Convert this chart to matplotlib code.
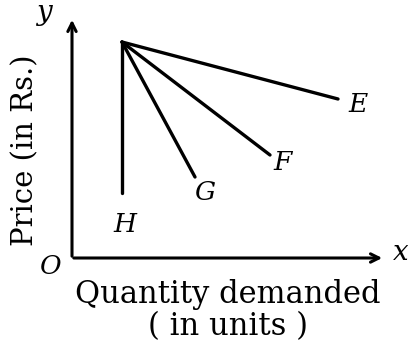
import matplotlib
matplotlib.use("Agg")
import matplotlib.pyplot as plt

# diagram coordinates (pixel space of the original picture, y downwards)
origin = (72, 258)
apex = (122, 42)
curve_names = ["E", "F", "G", "H"]
curve_ends = [(338, 99), (270, 155), (195, 177), (122, 193)]
label_pos = [(358, 104), (283, 163), (205, 193), (125, 224)]

fig = plt.figure(figsize=(4.08, 3.5), dpi=100)
ax = fig.add_axes([0, 0, 1, 1])
ax.set_xlim(0, 408)
ax.set_ylim(350, 0)
ax.axis("off")

serif = ["DejaVu Serif", "Liberation Serif"]

# axes with arrows
ax.annotate("", xy=(origin[0], 17), xytext=(origin[0], origin[1] + 1),
            arrowprops=dict(arrowstyle="->,head_length=0.6,head_width=0.3", lw=2.2, color="black"))
ax.annotate("", xy=(385, origin[1]), xytext=(origin[0] - 1, origin[1]),
            arrowprops=dict(arrowstyle="->,head_length=0.6,head_width=0.3", lw=2.2, color="black"))

for name, end, lp in zip(curve_names, curve_ends, label_pos):
    ax.plot([apex[0], end[0]], [apex[1], end[1]], color="black", lw=2.4, solid_capstyle="round")
    ax.text(lp[0], lp[1], name, family=serif, style="italic", fontsize=19,
            ha="center", va="center")

ax.text(51, 267, "O", family=serif, style="italic", fontsize=19, ha="center", va="center")
ax.text(401, 253, "x", family=serif, style="italic", fontsize=20, ha="center", va="center")
ax.text(44, 12, "y", family=serif, style="italic", fontsize=20, ha="center", va="center")

ax.text(25, 150, "Price (in Rs.)", family=serif, fontsize=21, rotation=90,
        ha="center", va="center")
ax.text(228, 295, "Quantity demanded", family=serif, fontsize=22, ha="center", va="center")
ax.text(228, 327, "( in units )", family=serif, fontsize=22, ha="center", va="center")

fig.savefig("out.png", dpi=100)
